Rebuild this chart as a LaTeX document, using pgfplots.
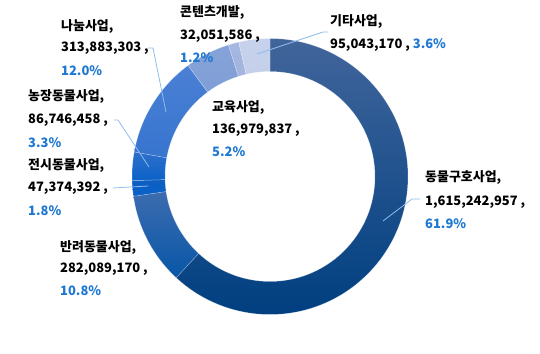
\documentclass[border=0pt]{standalone}
\usepackage{pgfplots}
\pgfplotsset{compat=1.18}
\usepackage{pgfplotstable}
\usepackage{fontspec}
\setmainfont{Noto Sans CJK KR}
\definecolor{c1t}{HTML}{41659B}\definecolor{c1b}{HTML}{003F80}
\definecolor{c2t}{HTML}{4670B0}\definecolor{c2b}{HTML}{0856A8}
\definecolor{c3t}{HTML}{0E5EC0}\definecolor{c3b}{HTML}{0A62C8}
\definecolor{c4t}{HTML}{2F6FCB}\definecolor{c4b}{HTML}{0A62C8}
\definecolor{c5t}{HTML}{4A80D4}\definecolor{c5b}{HTML}{3372CE}
\definecolor{c6t}{HTML}{85A2D8}\definecolor{c6b}{HTML}{7898D4}
\definecolor{c7t}{HTML}{A5B7E0}\definecolor{c7b}{HTML}{9DB0DD}
\definecolor{c8t}{HTML}{C6D1EB}\definecolor{c8b}{HTML}{BFCBE8}
\definecolor{pct}{HTML}{1E78D2}
\definecolor{lead}{HTML}{8FBDEB}
% values in millions of won, clockwise from 12 o'clock
\pgfplotstableread{
value top bottom
1615.242957 c1t c1b
282.089170 c2t c2b
47.374392 c3t c3b
86.746458 c4t c4b
313.883303 c5t c5b
136.979837 c6t c6b
32.051586 c7t c7b
95.043170 c8t c8b
}\donut
\begin{document}
\begin{tikzpicture}[font=\fontsize{13}{15}\selectfont\bfseries]
\begin{axis}[x=1bp,y=1bp,xmin=0,xmax=540,ymin=0,ymax=354,hide axis,clip=false,
  anchor=south west,at={(0,0)}]
\def\total{0}
\pgfplotsforeachungrouped \i in {0,...,7}{%
  \pgfplotstablegetelem{\i}{value}\of{\donut}%
  \pgfmathsetmacro\total{\total+\pgfplotsretval}%
}
\def\cum{0}
\pgfplotsforeachungrouped \i in {0,...,7}{%
  \pgfplotstablegetelem{\i}{value}\of{\donut}\let\v\pgfplotsretval
  \pgfplotstablegetelem{\i}{top}\of{\donut}\let\ct\pgfplotsretval
  \pgfplotstablegetelem{\i}{bottom}\of{\donut}\let\cb\pgfplotsretval
  \pgfmathsetmacro\as{90-\cum/\total*360}%
  \pgfmathsetmacro\cum{\cum+\v}%
  \pgfmathsetmacro\ae{90-\cum/\total*360}%
  \edef\cmd{\noexpand\shadedraw[top color=\ct,bottom color=\cb,draw=white,draw opacity=0.35,line width=0.5pt]
    (axis cs:270,177.5) ++(\as:138bp) arc[start angle=\as,end angle=\ae,radius=138bp]
    -- ++(\ae:-33bp) arc[start angle=\ae,end angle=\as,radius=105bp] -- cycle;}%
  \cmd
}
% leader lines
\draw[lead,line width=0.8pt] (axis cs:257,300) -- (axis cs:323,322) -- (axis cs:328,322);
\draw[lead,line width=0.8pt] (axis cs:148,306) -- (axis cs:153,306) -- (axis cs:166,242);
\draw[lead,line width=0.8pt] (axis cs:114,234) -- (axis cs:118,234) -- (axis cs:149,187);
\draw[lead,line width=0.8pt] (axis cs:113,166) -- (axis cs:148,168);
\draw[lead,line width=0.8pt] (axis cs:383,133) -- (axis cs:412,155) -- (axis cs:420,155);
% labels
\node[anchor=west,inner sep=0pt] at (axis cs:61,328) {나눔사업,};
\node[anchor=west,inner sep=0pt] at (axis cs:61,306) {313,883,303 ,};
\node[anchor=west,inner sep=0pt] at (axis cs:61,283) {\textcolor{pct}{12.0\%}};
\node[anchor=west,inner sep=0pt] at (axis cs:180,341) {콘텐츠개발,};
\node[anchor=west,inner sep=0pt] at (axis cs:180,318) {32,051,586 ,};
\node[anchor=west,inner sep=0pt] at (axis cs:180,296) {\textcolor{pct}{1.2\%}};
\node[anchor=west,inner sep=0pt] at (axis cs:330,332) {기타사업,};
\node[anchor=west,inner sep=0pt] at (axis cs:330,309) {95,043,170 , \textcolor{pct}{3.6\%}};
\node[anchor=west,inner sep=0pt] at (axis cs:212,246) {교육사업,};
\node[anchor=west,inner sep=0pt] at (axis cs:212,224) {136,979,837 ,};
\node[anchor=west,inner sep=0pt] at (axis cs:212,202) {\textcolor{pct}{5.2\%}};
\node[anchor=west,inner sep=0pt] at (axis cs:28,257) {농장동물사업,};
\node[anchor=west,inner sep=0pt] at (axis cs:28,234) {86,746,458 ,};
\node[anchor=west,inner sep=0pt] at (axis cs:28,211) {\textcolor{pct}{3.3\%}};
\node[anchor=west,inner sep=0pt] at (axis cs:28,189) {전시동물사업,};
\node[anchor=west,inner sep=0pt] at (axis cs:28,166) {47,374,392 ,};
\node[anchor=west,inner sep=0pt] at (axis cs:28,143) {\textcolor{pct}{1.8\%}};
\node[anchor=west,inner sep=0pt] at (axis cs:60,107) {반려동물사업,};
\node[anchor=west,inner sep=0pt] at (axis cs:60,85) {282,089,170 ,};
\node[anchor=west,inner sep=0pt] at (axis cs:60,63) {\textcolor{pct}{10.8\%}};
\node[anchor=west,inner sep=0pt] at (axis cs:425,176) {동물구호사업,};
\node[anchor=west,inner sep=0pt] at (axis cs:425,152) {1,615,242,957 ,};
\node[anchor=west,inner sep=0pt] at (axis cs:425,130) {\textcolor{pct}{61.9\%}};
\end{axis}
\pgfresetboundingbox
\path (0,0) rectangle (540bp,354bp);
\end{tikzpicture}
\end{document}
